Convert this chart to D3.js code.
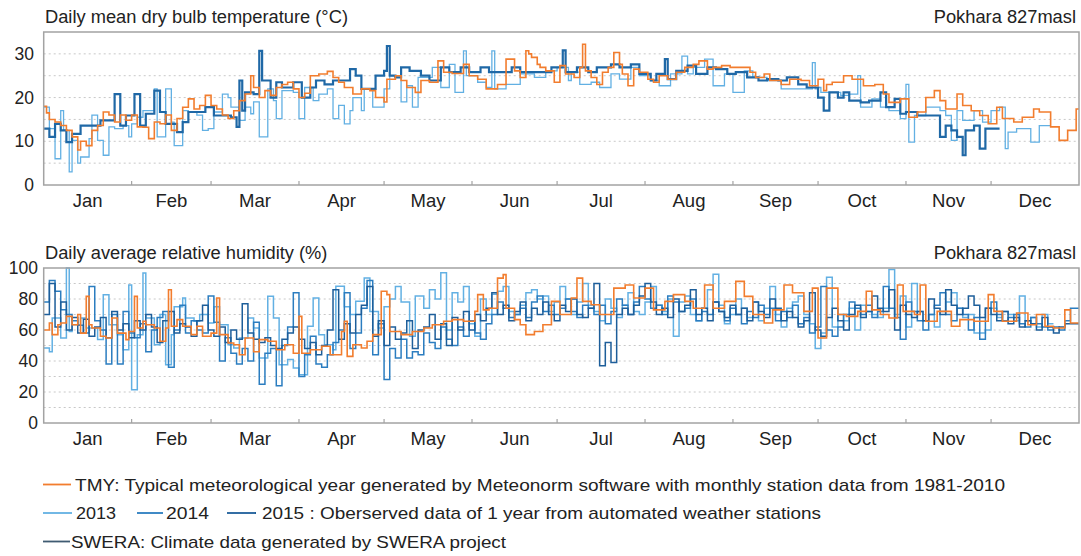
<!DOCTYPE html>
<html>
<head>
<meta charset="utf-8">
<script src="https://cdn.jsdelivr.net/npm/d3@7.9.0/dist/d3.min.js"></script>
<style>
  body { margin: 0; background: #fff; }
  svg { display: block; font-family: "Liberation Sans", Arial, Helvetica, sans-serif; }
</style>
</head>
<body>
<svg id="chart" width="1081" height="556"></svg>
<script>
// month labels and first day-of-year of each month (365-day year)
const months = ["Jan", "Feb", "Mar", "Apr", "May", "Jun", "Jul", "Aug", "Sep", "Oct", "Nov", "Dec"];
const monthStarts = [0, 31, 59, 90, 120, 151, 181, 212, 243, 273, 304, 334, 365];

const tempTicks = [0, 10, 20, 30];
const tempGrid = [5, 10, 15, 20, 25, 30];
const rhTicks = [0, 20, 40, 60, 80, 100];
const rhGrid = [10, 20, 30, 40, 50, 60, 70, 80, 90];

// temperature, [day of year, value] - value holds until the next entry (null = end of record)
const tempTMY = [[0,18],[1,16.5],[2,15],[4,14.4],[6,13.6],[8,12.5],[10,11],[12,8],[13,10],[15,9],[17,12.5],[19,13.6],[21,16.7],[23,16],[25,14.4],[27,16],[29,14.8],[31,16],[33,13.3],[35,13.2],[37,10.6],[39,14.4],[41,14],[43,16],[45,12.5],[47,15.2],[49,17.8],[51,19.7],[53,17.4],[55,18.2],[57,20.5],[59,18.2],[61,17.4],[63,16],[65,15.2],[67,17],[69,19.3],[71,20.8],[73,25],[74,22.3],[76,20],[78,21.6],[80,20.5],[82,22.3],[84,23],[86,23.5],[88,22],[90,20],[92,21],[94,25],[97,25.4],[100,26],[102,24.6],[104,23.5],[106,22.3],[109,20.8],[112,22],[115,21.6],[117,20],[120,19],[121,24.2],[124,25],[126,23.9],[128,22.3],[131,21.2],[133,23.9],[136,23.5],[139,28.4],[141,25.8],[144,25.5],[148,27.6],[150,25],[153,24.2],[156,22],[160,23],[163,28.8],[166,26.1],[168,24.6],[170,30.7],[171,30],[172,29.2],[174,27.6],[175,26.9],[177,26.1],[180,23.5],[182,27.3],[184,25.4],[187,24.6],[189,26.9],[190,32.2],[191,26.1],[193,24.6],[195,23],[197,25.8],[199,26.9],[201,30.3],[203,27.6],[204,25.4],[206,22.7],[208,26.5],[210,25.8],[213,24.2],[215,23.5],[217,25],[220,24.2],[223,25.8],[226,26.9],[229,27.6],[231,28.4],[234,26.5],[236,26.9],[239,27.3],[242,26.9],[246,26.9],[249,25.8],[251,24.6],[254,25.4],[256,23.9],[260,23],[263,24.2],[267,23.9],[270,22.7],[273,24.2],[275,21.6],[276,23],[278,23.5],[282,25],[285,24.2],[289,22.7],[293,23],[296,20.8],[298,18.9],[302,19.7],[305,15.5],[308,16.7],[311,20],[314,21.6],[316,19.3],[318,17.4],[322,20.8],[324,18.2],[327,17],[330,15.9],[333,14],[336,17.8],[338,15.2],[342,14.4],[345,15.5],[349,17.4],[351,16.7],[355,13.3],[358,10.2],[361,12.5],[364,17.4],[365,null]];

const temp2013 = [[0,17.8],[2,12.9],[4,6],[6,17],[7,12.5],[9,3],[10,10.2],[12,5],[13,6.4],[16,10.6],[17,16],[19,10.2],[21,6.8],[23,13.3],[25,12.9],[28,13.6],[30,11],[31,14],[33,15.5],[35,17],[39,22],[40,11],[43,22],[45,14.4],[46,9],[49,17],[51,16.7],[54,16],[56,12.5],[58,12.9],[60,16.7],[63,20.8],[65,20],[66,17.8],[69,14.8],[71,17.8],[73,16.3],[74,19],[76,11],[79,22],[81,19.3],[82,15.2],[84,21.6],[88,21.2],[90,15.2],[92,22.3],[95,19.3],[97,20.8],[100,22],[102,15.2],[104,18.2],[106,14],[108,17],[109,20],[112,17],[113,22],[116,17.8],[120,22],[122,25],[124,24.6],[126,19],[128,22.7],[130,17.8],[132,24.6],[137,26.9],[140,22.3],[143,27.6],[145,21.2],[148,30.7],[149,25],[153,23.5],[156,22.3],[158,30.7],[159,22],[163,23],[168,25.4],[173,24.6],[177,26.1],[181,26.9],[185,23.9],[186,25.8],[189,23],[193,23.5],[196,22.3],[200,25.4],[203,24.2],[207,26.9],[210,25],[214,23.9],[217,22.7],[221,25.4],[225,29.5],[227,25.4],[229,26.9],[233,28.8],[236,22.7],[240,25.4],[243,21.2],[247,26.1],[250,24.6],[255,23.9],[260,22],[271,28],[272,22],[273,22.3],[274,21.2],[281,20.5],[284,20.8],[287,25],[288,17.8],[292,19.7],[295,17.8],[298,17],[302,15.2],[304,23],[305,9.8],[307,15.9],[311,17.8],[316,17],[318,15.9],[320,10.2],[322,17],[324,14.8],[328,17],[331,14.4],[334,17],[337,17.8],[339,8.3],[340,12.1],[343,12.9],[348,9.8],[351,13.6],[355,null]];

const temp2014 = [[0,12.9],[2,11],[4,14],[6,12.5],[8,9.8],[10,11.7],[13,13.6],[20,14.8],[25,20.8],[27,13.6],[29,15.9],[32,20.8],[34,13.6],[36,16.3],[39,21.6],[41,16.7],[43,14],[47,12.1],[49,14.4],[51,16.7],[57,17.8],[60,15.9],[66,15.5],[68,13.3],[69,23.9],[70,17],[71,21.2],[74,20.8],[76,30.7],[77,23.9],[80,20],[82,23.5],[84,22.3],[88,23.5],[91,20],[94,22.3],[96,23.9],[99,23],[102,23.9],[108,26.5],[110,25],[112,22],[117,25],[120,26.1],[121,31.8],[122,25],[124,24.6],[126,26.9],[129,26.1],[133,25],[136,23.9],[140,26.9],[143,25.8],[147,26.9],[150,25.8],[154,26.9],[157,25.8],[165,26.9],[168,25.8],[179,26.9],[183,30.8],[184,25.8],[188,26.9],[192,25.8],[195,26.9],[200,27.6],[203,26.9],[207,27.6],[210,25.4],[214,23.9],[216,25.4],[219,28.8],[220,24.2],[223,26.1],[227,27.3],[230,25.4],[234,26.9],[237,26.5],[241,25.4],[244,25.8],[248,24.6],[252,23.9],[255,24.2],[259,23.9],[262,24.6],[266,23],[269,22.3],[273,20],[275,17],[277,21.2],[280,20],[282,21.2],[284,19.3],[288,18.9],[291,19.3],[295,21.2],[297,17.8],[300,19.7],[302,16.3],[304,16.7],[308,15.9],[316,11],[318,13.6],[320,12.5],[322,11],[324,6.8],[325,12.5],[328,13.6],[330,8.3],[332,12.9],[337,null]];

// relative humidity
const rhTMY = [[0,60],[2,64.5],[3,57],[5,63.4],[6,64.5],[8,68.8],[10,63.4],[12,70],[13,58],[15,81.7],[16,63.4],[17,61.3],[20,56],[22,54.8],[24,67.7],[26,58],[29,53.8],[30,59],[32,81.7],[33,61.3],[35,65.6],[36,63.4],[39,61.3],[41,52.7],[43,61.3],[44,86],[45,62.4],[47,66.7],[49,62.4],[52,57],[54,62.4],[56,56],[59,58],[61,80.6],[62,57],[65,51.6],[67,50.5],[69,44],[71,54.8],[74,46],[76,53.8],[79,52.7],[82,47.3],[85,50.5],[88,45],[90,68.8],[91,45],[94,47.3],[98,49.5],[101,44],[105,59],[106,65.6],[107,43],[109,50.5],[112,48.4],[114,52.7],[116,57],[119,85],[121,82.8],[122,59],[126,57],[130,59],[134,61.3],[137,63.4],[141,65.6],[144,66.7],[148,65.6],[152,72],[153,82.8],[155,73],[157,74],[160,93.5],[162,95.7],[163,74],[166,66.7],[168,63.4],[170,57],[173,59],[176,63.4],[179,78.5],[182,70],[186,80.6],[188,93.5],[190,78.5],[193,76.3],[196,70],[201,87],[205,89],[208,80.6],[212,87],[215,73],[219,78.5],[222,82.8],[226,78.5],[229,74],[233,89],[236,74],[240,78.5],[244,91.4],[247,81.7],[250,70],[254,64.5],[257,73],[261,89],[264,84],[268,72],[271,87],[273,54.8],[276,87],[280,70],[283,68.8],[287,72],[290,85],[292,73],[295,70],[298,67.7],[301,89],[303,72],[307,70],[309,89],[311,65.6],[315,72],[320,62.4],[323,66.7],[328,65.6],[333,82.8],[335,72],[338,65.6],[343,71],[347,63.4],[350,70],[353,62.4],[356,61.3],[360,73],[362,64.5],[365,null]];

const rh2013 = [[0,48.4],[2,46],[3,67.7],[6,54.8],[8,100],[9,59],[10,63.4],[13,67.7],[15,61.3],[19,53.8],[21,82.8],[23,63.4],[26,57],[28,47.3],[30,89],[31,21.5],[33,57],[35,96.8],[36,67.7],[39,50.5],[41,70],[43,37.6],[45,57],[46,75],[49,80.6],[50,67.7],[53,65.6],[55,70],[58,64.5],[60,75],[62,63.4],[65,50.5],[67,48.4],[69,54.8],[72,67.7],[74,61.3],[76,42],[79,81.7],[81,67.7],[83,37.6],[86,40.9],[88,35.5],[90,31.2],[93,62.4],[95,80.6],[97,57],[99,50.5],[102,47.3],[103,88.2],[106,75],[108,70],[110,78.5],[113,93.5],[115,72],[118,61.3],[120,75],[122,80],[124,88],[126,78],[129,56],[131,82],[134,74],[136,86],[138,80],[140,97],[142,60],[144,84],[146,78],[148,88],[150,64],[152,56],[154,80],[156,70],[158,83],[160,85],[162,88],[164,72],[166,70],[168,76],[170,84],[172,86],[174,80],[176,82],[178,72],[180,78],[182,88],[184,80],[186,70],[188,78],[190,90],[192,76],[194,72],[196,66],[198,80],[200,74],[202,68],[204,76],[206,84],[208,72],[210,70],[212,78],[214,88],[216,76],[218,72],[220,80],[222,56],[224,78],[226,82],[228,70],[230,66],[232,74],[234,86],[236,96],[238,76],[240,64],[242,70],[244,80],[246,74],[248,68],[250,78],[252,66],[254,74],[256,88],[258,70],[260,62],[262,74],[264,78],[266,82],[268,70],[270,64],[272,48],[274,58],[276,94],[278,62],[280,70],[282,66],[284,74],[286,60],[288,76],[290,72],[292,70],[294,68],[296,74],[298,99],[300,70],[302,82],[304,62],[306,90],[308,72],[310,66],[312,70],[314,62],[316,72],[318,78],[320,84],[322,74],[324,68],[326,70],[328,58],[332,60],[334,74],[336,68],[338,72],[340,70],[342,66],[344,82],[346,66],[348,68],[350,62],[352,70],[354,64],[356,null]];

// 2014 and 2015 humidity: one value per two days, starting Jan 1
const rh2014 = [78,92,85,73,70,66,63,58,88,66,60,38,70,38,72,58,55,64,46,60,68,72,36,60,76,58,66,60,58,82,65,40,55,45,38,48,40,65,25,45,48,24,50,62,84,30,44,56,38,36,44,52,60,84,48,58,74,92,44,64,28,48,42,54,42,46,44,58,52,48,62,54,50,62,56,66,58,54,64,70,78,74,68,70,74,68,78,82,72,76,70,74,80,72,68,76,74,70,76,64,72,80,76,70,78,88,80,74,76,70,82,78,72,74,80,66,72,70,78,72,66,74,70,64,72,68,76,70,74,66,72,68,76,64,68,58,62,88,60,56,62,70,78,74,70,76,68,72,88,74,68,54,78,72,66,60,70,76,84,70,66,74,70,60,68,54,74,78,70,66,68,70,64,62,68,64,62,60,62,60,66,74];

const rh2015 = [70,90,62,78,60,68,58,67,56,62,68,55,72,60,64,55,66,60,70,62,52,66,72,58,64,62,56,66,76,60,56,62,52,60,54,77,58,54,52,55,50,48,54,58,62,54,48,52,44,50,60,86,54,64,58,70,76,88,56,66,50,62,54,58,66,48,60,62,70,54,64,50,68,60,72,60,70,66,74,84,70,76,66,72,78,66,74,70,78,70,66,76,72,80,70,68,74,90,37,52,39,70,74,70,76,82,90,78,70,74,68,80,72,76,86,70,74,66,78,72,68,76,70,74,66,78,72,68,80,74,66,72,68,62,66,84,60,56,68,74,66,60,70,76,68,72,82,74,72,86,60,76,70,68,72,66,80,74,70,86,76,70,74,82,76,68,74,70,66,72,64,68,62,66,64,60,68,62,58,62,64];

const legendRows = [
  ["TMY: Typical meteorological year generated by Meteonorm software with monthly station data from 1981-2010"],
  ["2013", "2014", "2015 : Oberserved data of 1 year from automated weather stations"],
  ["SWERA: Climate data generated by SWERA project"]
];

const colors = {
  tmy: "#f27d2e",
  y2013: "#62b0e3",
  y2014: "#2b7dc0",
  y2015: "#1d5e9a",
  swera: "#3f5b72"
};

const svg = d3.select("#chart");

const x = d3.scaleLinear().domain([0, 365]).range([43.7, 1079]);

function everyTwoDays(values) {
  const pairs = values.map((v, i) => [i * 2, v]);
  pairs.push([365, null]);
  return pairs;
}

// turn [start, value] pairs into step points
function steps(pairs) {
  const pts = [];
  for (let i = 0; i < pairs.length - 1; i++) {
    const [d, v] = pairs[i];
    const next = pairs[i + 1][0];
    pts.push([d, v], [next, v]);
  }
  return pts;
}

function panel(opts) {
  const { top, bottom, domain, ticks, grid, title, labelRight, series } = opts;
  const y = d3.scaleLinear().domain(domain).range([bottom, top]);
  const g = svg.append("g");

  // dotted gridlines
  g.selectAll("line.grid")
    .data(grid)
    .join("line")
    .attr("x1", x(0)).attr("x2", x(365))
    .attr("y1", d => y(d)).attr("y2", d => y(d))
    .attr("stroke", "#c8c8c8")
    .attr("stroke-width", 1)
    .attr("stroke-dasharray", "2,3");

  const line = d3.line()
    .x(d => x(d[0]))
    .y(d => y(d[1]));

  series.forEach(s => {
    g.append("path")
      .attr("d", line(steps(s.data)))
      .attr("fill", "none")
      .attr("stroke", s.color)
      .attr("stroke-width", s.width)
      .attr("stroke-linejoin", "miter");
  });

  // frame
  g.append("rect")
    .attr("x", x(0)).attr("y", top)
    .attr("width", x(365) - x(0)).attr("height", bottom - top)
    .attr("fill", "none")
    .attr("stroke", "#a3a3a3")
    .attr("stroke-width", 1.5);

  // month ticks, pointing inward
  g.selectAll("line.mtick")
    .data(monthStarts.slice(1, 12))
    .join("line")
    .attr("x1", d => x(d)).attr("x2", d => x(d))
    .attr("y1", bottom).attr("y2", bottom - 4)
    .attr("stroke", "#a3a3a3")
    .attr("stroke-width", 1.2);

  g.selectAll("text.month")
    .data(months)
    .join("text")
    .attr("x", (d, i) => x((monthStarts[i] + monthStarts[i + 1]) / 2))
    .attr("y", bottom + 22)
    .attr("text-anchor", "middle")
    .attr("font-size", 18.5)
    .attr("fill", "#222")
    .text(d => d);

  g.selectAll("text.ytick")
    .data(ticks)
    .join("text")
    .attr("x", opts.labelX)
    .attr("y", d => y(d) + 6)
    .attr("text-anchor", "end")
    .attr("font-size", 17.5)
    .attr("fill", "#222")
    .text(d => d);

  g.append("text")
    .attr("x", 45).attr("y", top - 9)
    .attr("font-size", 18.3)
    .attr("fill", "#222")
    .text(title);

  g.append("text")
    .attr("x", 1076).attr("y", top - 9)
    .attr("text-anchor", "end")
    .attr("font-size", 18.3)
    .attr("fill", "#222")
    .text(labelRight);
}

panel({
  top: 32, bottom: 185, domain: [0, 35],
  ticks: tempTicks, grid: tempGrid, labelX: 34,
  title: "Daily mean dry bulb temperature (°C)",
  labelRight: "Pokhara 827masl",
  series: [
    { data: temp2013, color: colors.y2013, width: 1.3 },
    { data: temp2014, color: "#1f68a6", width: 2.2 },
    { data: tempTMY, color: colors.tmy, width: 1.6 }
  ]
});

panel({
  top: 268, bottom: 423, domain: [0, 100],
  ticks: rhTicks, grid: rhGrid, labelX: 38,
  title: "Daily average relative humidity (%)",
  labelRight: "Pokhara 827masl",
  series: [
    { data: rh2013, color: colors.y2013, width: 1.5 },
    { data: everyTwoDays(rh2014), color: colors.y2014, width: 1.5 },
    { data: everyTwoDays(rh2015), color: colors.y2015, width: 1.5 },
    { data: rhTMY, color: colors.tmy, width: 1.6 }
  ]
});

// legend
const legend = svg.append("g").attr("font-size", 17).attr("fill", "#222");
const legendItems = [
  { row: 0, x1: 43, x2: 71, tx: 75, w: 930, color: colors.tmy, text: legendRows[0][0] },
  { row: 1, x1: 43, x2: 72, tx: 76, w: 40, color: colors.y2013, text: legendRows[1][0] },
  { row: 1, x1: 137, x2: 163, tx: 166, w: 43, color: colors.y2014, text: legendRows[1][1] },
  { row: 1, x1: 227, x2: 256, tx: 262, w: 559, color: colors.y2015, text: legendRows[1][2] },
  { row: 2, x1: 43, x2: 70, tx: 71, w: 435, color: colors.swera, text: legendRows[2][0] }
];
const rowY = [484.5, 513, 541.5];

legendItems.forEach(d => {
  legend.append("line")
    .attr("x1", d.x1).attr("x2", d.x2)
    .attr("y1", rowY[d.row]).attr("y2", rowY[d.row])
    .attr("stroke", d.color)
    .attr("stroke-width", 1.8);
  legend.append("text")
    .attr("x", d.tx).attr("y", rowY[d.row] + 6)
    .attr("textLength", d.w)
    .attr("lengthAdjust", "spacingAndGlyphs")
    .text(d.text);
});
</script>
</body>
</html>
